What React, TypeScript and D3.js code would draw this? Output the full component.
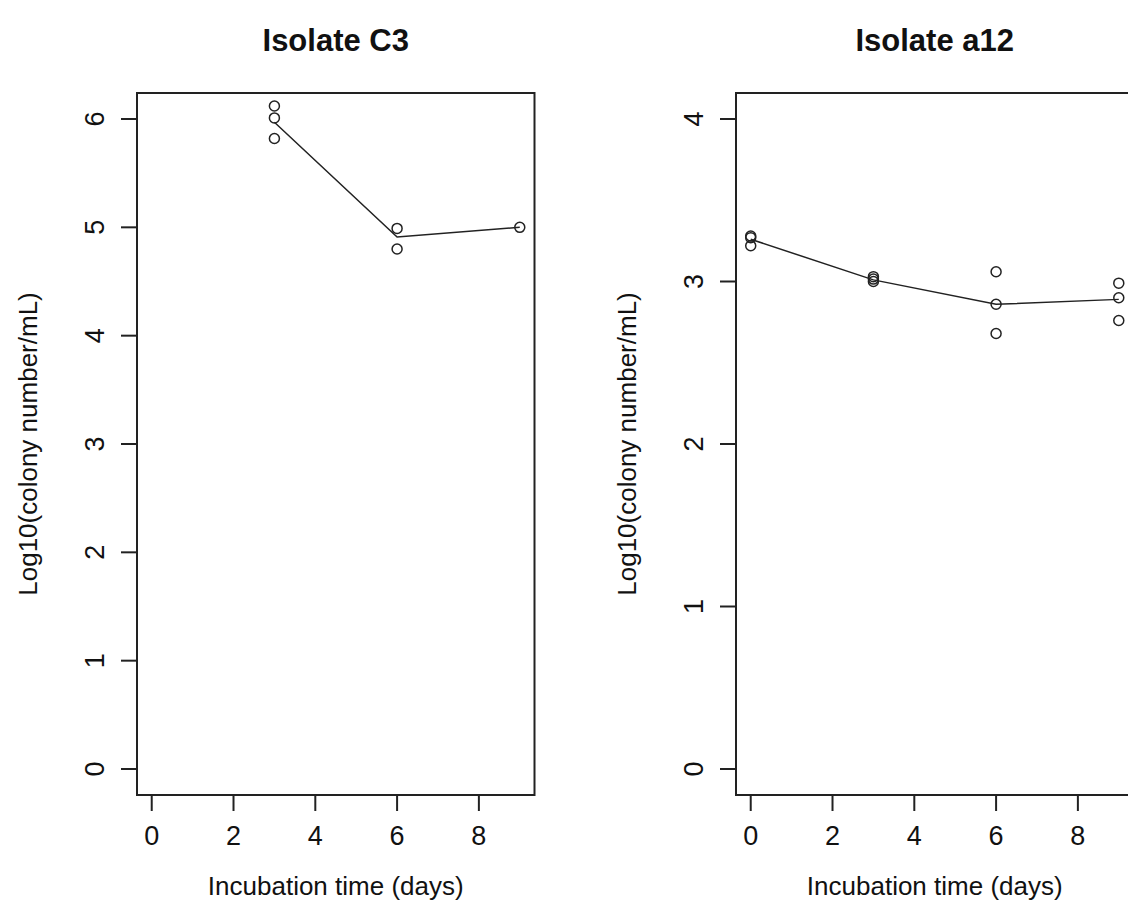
import React from 'react';
import * as d3 from 'd3';

// replicate measurements (log10 colony number/mL) per incubation day
const c3Days = [3, 3, 3, 6, 6, 9];
const c3Values = [6.12, 6.01, 5.82, 4.99, 4.8, 5.0];
const c3LineDays = [3, 6, 9];
const c3LineValues = [5.97, 4.91, 5.0];

const a12Days = [0, 0, 0, 3, 3, 3, 6, 6, 6, 9, 9, 9];
const a12Values = [3.28, 3.27, 3.22, 3.03, 3.015, 3.0, 3.06, 2.86, 2.68, 2.99, 2.9, 2.76];
const a12LineDays = [0, 3, 6, 9];
const a12LineValues = [3.26, 3.01, 2.86, 2.89];

const xTicks = [0, 2, 4, 6, 8];
const c3YTicks = [0, 1, 2, 3, 4, 5, 6];
const a12YTicks = [0, 1, 2, 3, 4];

const WIDTH = 1128;
const HEIGHT = 924;
const TOP = 93;
const BOTTOM = 795;
const PLOT_W = 397.5;
const FONT = '"Liberation Sans", Arial, sans-serif';
const INK = '#222';

// R-style 4% padding around the data range
const pad = (lo: number, hi: number) => {
  const d = (hi - lo) * 0.04;
  return [lo - d, hi + d];
};

type PanelProps = {
  left: number;
  title: string;
  days: number[];
  values: number[];
  lineDays: number[];
  lineValues: number[];
  yMax: number;
  yTicks: number[];
};

const Panel = ({ left, title, days, values, lineDays, lineValues, yMax, yTicks }: PanelProps) => {
  const x = d3.scaleLinear().domain(pad(0, 9)).range([left, left + PLOT_W]);
  const y = d3.scaleLinear().domain(pad(0, yMax)).range([BOTTOM, TOP]);

  const line = d3.line<number>()
    .x((d, i) => x(lineDays[i]))
    .y(d => y(d));

  const cx = left + PLOT_W / 2;
  const cy = (TOP + BOTTOM) / 2;

  return (
    <g>
      <text
        x={cx}
        y={40}
        textAnchor="middle"
        dominantBaseline="central"
        fontFamily={FONT}
        fontWeight="bold"
        fontSize={31}
        fill="#111"
      >
        {title}
      </text>
      <path d={line(lineValues) || ''} fill="none" stroke={INK} strokeWidth={1.5} />
      {values.map((v, i) => (
        <circle
          key={i}
          cx={x(days[i])}
          cy={y(v)}
          r={5}
          fill="none"
          stroke={INK}
          strokeWidth={1.5}
        />
      ))}
      <rect
        x={left}
        y={TOP}
        width={PLOT_W}
        height={BOTTOM - TOP}
        fill="none"
        stroke={INK}
        strokeWidth={2}
      />
      {xTicks.map(t => (
        <g key={`x${t}`}>
          <line x1={x(t)} x2={x(t)} y1={BOTTOM} y2={BOTTOM + 16} stroke={INK} strokeWidth={2} />
          <text
            x={x(t)}
            y={836}
            textAnchor="middle"
            dominantBaseline="central"
            fontFamily={FONT}
            fontSize={27}
            fill="#111"
          >
            {t}
          </text>
        </g>
      ))}
      {yTicks.map(t => (
        <g key={`y${t}`}>
          <line x1={left - 16} x2={left} y1={y(t)} y2={y(t)} stroke={INK} strokeWidth={2} />
          <text
            transform={`translate(${left - 42},${y(t)}) rotate(-90)`}
            textAnchor="middle"
            dominantBaseline="central"
            fontFamily={FONT}
            fontSize={27}
            fill="#111"
          >
            {t}
          </text>
        </g>
      ))}
      <text
        x={cx}
        y={886}
        textAnchor="middle"
        dominantBaseline="central"
        fontFamily={FONT}
        fontSize={26}
        fill="#111"
      >
        Incubation time (days)
      </text>
      <text
        transform={`translate(${left - 109},${cy}) rotate(-90)`}
        textAnchor="middle"
        dominantBaseline="central"
        fontFamily={FONT}
        fontSize={26}
        fill="#111"
      >
        Log10(colony number/mL)
      </text>
    </g>
  );
};

const App = () => (
  <svg
    width={WIDTH}
    height={HEIGHT}
    style={{ position: 'absolute', left: 0, top: 0, background: '#fff', display: 'block' }}
  >
    <rect width={WIDTH} height={HEIGHT} fill="#fff" />
    <Panel
      left={137}
      title="Isolate C3"
      days={c3Days}
      values={c3Values}
      lineDays={c3LineDays}
      lineValues={c3LineValues}
      yMax={6}
      yTicks={c3YTicks}
    />
    <Panel
      left={736}
      title="Isolate a12"
      days={a12Days}
      values={a12Values}
      lineDays={a12LineDays}
      lineValues={a12LineValues}
      yMax={4}
      yTicks={a12YTicks}
    />
  </svg>
);

export default App;
